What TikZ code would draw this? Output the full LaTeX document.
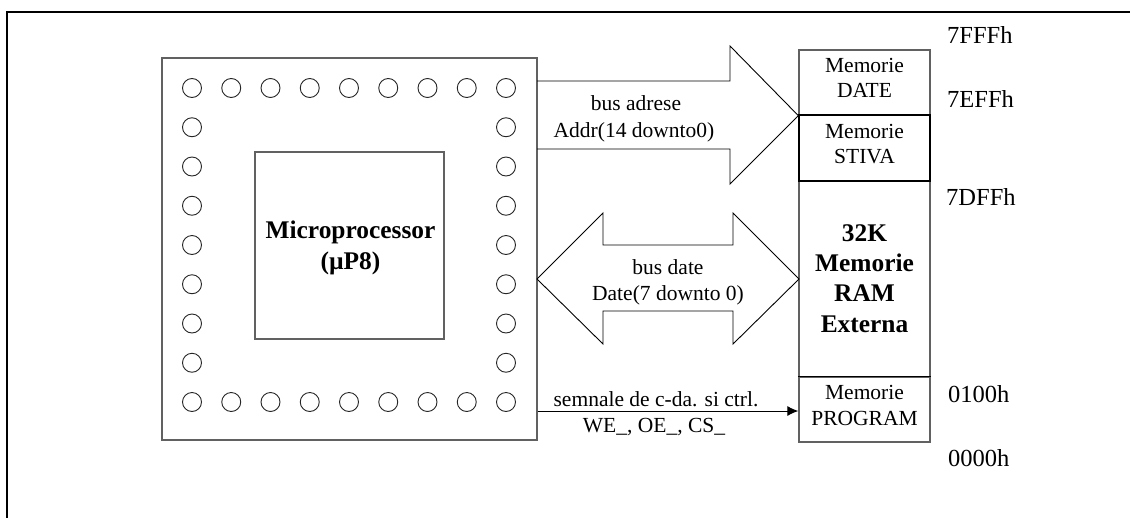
\documentclass[tikz,border=0pt]{standalone}
\usepackage{fontspec}
\setmainfont{Liberation Serif}
\usetikzlibrary{arrows.meta}
\begin{document}
\begin{tikzpicture}[x=1pt,y=-1pt,
  frameline/.style={line width=2.2pt, black},
  grayline/.style={draw=black!62, line width=1.3pt},
  blkbox/.style={draw=black, line width=1.5pt},
  pin/.style={circle, draw=black!85, line width=0.9pt, minimum size=19pt, inner sep=0pt},
  busline/.style={draw=black, line width=0.9pt, line join=miter},
  txt/.style={font=\fontsize{21.5}{25}\selectfont, anchor=base, inner sep=0pt},
  btxt/.style={font=\bfseries\fontsize{25.4}{30}\selectfont, anchor=base, inner sep=0pt},
  hex/.style={font=\fontsize{24.5}{29}\selectfont, anchor=base west, inner sep=0pt},
  rect/.style={rectangle, inner sep=0pt}
]
\useasboundingbox (0,0) rectangle (1130,517);

% outer frame
\coordinate (fr1) at (1131,12);
\coordinate (fr2) at (7,12);
\coordinate (fr3) at (7,518);
\draw[frameline] (fr1) -- (fr2) -- (fr3);

% chip
\node[rect, grayline, minimum width=375pt, minimum height=382pt] (chip) at (349.5,249) {};
\node[rect, grayline, minimum width=189pt, minimum height=187pt] (core) at (349.5,245.5) {};
\node[btxt] (mp1) at (350.5,238) {Microprocessor};
\node[btxt] (mp2) at (350.5,269) {(µP8)};

% pins
\foreach \i in {0,...,8} {
  \node[pin] (pt\i) at ({192+39.25*\i},88) {};
  \node[pin] (pb\i) at ({192+39.25*\i},402) {};
}
\foreach \j in {1,...,7} {
  \node[pin] (pl\j) at (192,{88+39.25*\j}) {};
  \node[pin] (pr\j) at (506,{88+39.25*\j}) {};
}

% memory
\node[rect, grayline, minimum width=131pt, minimum height=65pt] (mdate) at (864.5,82.5) {};
\node[rect, grayline, minimum width=131pt, minimum height=196pt] (mram) at (864.5,279) {};
\node[rect, grayline, minimum width=131pt, minimum height=65pt] (mprog) at (864.5,409.5) {};
\node[rect, blkbox, minimum width=131pt, minimum height=66pt] (mstiva) at (864.5,148) {};
\draw[black, line width=1.5pt] (mprog.north west) -- (mprog.north east);

\node[txt] (td1) at (864.5,72) {Memorie};
\node[txt] (td2) at (864.5,97.5) {DATE};
\node[txt] (ts1) at (864.5,138) {Memorie};
\node[txt] (ts2) at (864.5,163) {STIVA};
\node[btxt] (tr1) at (864.5,241) {32K};
\node[btxt] (tr2) at (864.5,271) {Memorie};
\node[btxt] (tr3) at (864.5,301) {RAM};
\node[btxt] (tr4) at (864.5,332) {Externa};
\node[txt] (tp1) at (864.5,399) {Memorie};
\node[txt] (tp2) at (864.5,425) {PROGRAM};

% hex addresses
\node[hex] (h1) at (947,43) {7FFFh};
\node[hex] (h2) at (947,107) {7EFFh};
\node[hex] (h3) at (946,205) {7DFFh};
\node[hex] (h4) at (948,402) {0100h};
\node[hex] (h5) at (948,466) {0000h};

% address bus arrow
\coordinate (a1) at (537,81);
\coordinate (a2) at (730,81);
\coordinate (a3) at (730,46);
\coordinate (a4) at (mdate.south west);
\coordinate (a5) at (730,184);
\coordinate (a6) at (730,149);
\coordinate (a7) at (537,149);
\draw[busline] (a1) -- (a2) -- (a3) -- (a4) -- (a5) -- (a6) -- (a7);
\node[txt] (ab1) at (636,110) {bus adrese};
\node[txt] (ab2) at (634,137) {Addr(14 downto0)};

% data bus double arrow
\coordinate (d0) at (537,279);
\coordinate (d1) at (603,213);
\coordinate (d2) at (603,245);
\coordinate (d3) at (733,245);
\coordinate (d4) at (733,213);
\coordinate (d5) at (799,279);
\coordinate (d6) at (733,344);
\coordinate (d7) at (733,311);
\coordinate (d8) at (603,311);
\coordinate (d9) at (603,344);
\draw[busline] (d0) -- (d1) -- (d2) -- (d3) -- (d4) -- (d5) -- (d6) -- (d7) -- (d8) -- (d9) -- cycle;
\node[txt] (db1) at (668,274) {bus date};
\node[txt] (db2) at (668,300) {Date(7 downto 0)};

% control signals
\coordinate (c1) at (chip.east |- 0,411);
\draw[black, line width=1pt, -{Latex[length=11pt,width=10pt]}] (c1) -- (c1 -| mprog.west);
\node[txt] (cs1) at (656,406) {semnale de c-da. si ctrl.};
\node[txt] (cs2) at (654,432) {WE\_, OE\_, CS\_};
\end{tikzpicture}
\end{document}
